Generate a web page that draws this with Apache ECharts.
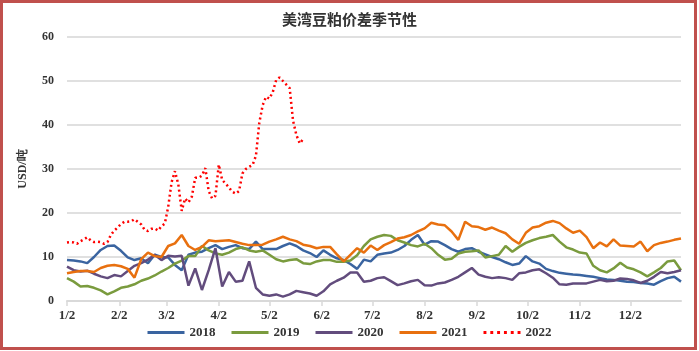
<!DOCTYPE html>
<html>
<head>
<meta charset="utf-8">
<script src="https://cdn.jsdelivr.net/npm/echarts@6/dist/echarts.min.js"></script>
<style>
  html, body { margin: 0; padding: 0; background: #fff; }
  #chart { width: 699px; height: 351px; }
</style>
</head>
<body>
<div id="chart"></div>
<script>
// x axis: every day from 1/2 to 1/1, labels only on the 2nd of each month
const days = [];
for (let i = 0; i < 365; i++) {
  const d = new Date(2021, 0, 2 + i);
  days.push((d.getMonth() + 1) + '/' + d.getDate());
}

// values sampled every 4 days (2018-2021) and every 2 days (2022) from 1/2
const STEP = 4;
const STEP_2022 = 2;

const y2018 = [
  9.3, 9.2, 9.0, 8.6, 10.0, 11.6, 12.5, 12.6, 11.4, 9.9, 9.3, 9.7, 8.6, 10.5, 10.0, 9.9,
  8.2, 7.0, 10.5, 11.0, 11.2, 12.0, 12.7, 11.8, 12.3, 12.7, 12.0, 11.8, 13.5, 11.8, 11.8, 11.8,
  12.5, 13.1, 12.5, 11.5, 10.9, 10.0, 11.5, 10.5, 9.7, 9.3, 8.4, 7.3, 9.4, 9.0, 10.5, 10.8,
  11.0, 11.6, 12.5, 13.9, 15.0, 12.8, 13.6, 13.5, 12.7, 11.8, 11.2, 11.8, 12.0, 11.2, 10.6, 10.0,
  9.5, 8.8, 8.2, 8.5, 10.2, 9.0, 8.5, 7.3, 6.8, 6.4, 6.2, 6.0, 5.9, 5.7, 5.5, 5.2,
  4.9, 4.8, 4.6, 4.4, 4.3, 4.1, 4.0, 3.7, 4.5, 5.2, 5.5, 4.4
];
const y2019 = [
  5.2, 4.4, 3.3, 3.4, 3.0, 2.4, 1.5, 2.2, 3.0, 3.3, 3.8, 4.6, 5.1, 5.8, 6.7, 7.5,
  8.5, 9.2, 10.2, 10.2, 12.5, 11.5, 10.8, 10.5, 11.0, 11.8, 12.2, 11.5, 11.2, 11.5, 10.5, 9.5,
  9.0, 9.3, 9.5, 8.6, 8.4, 9.0, 9.3, 9.3, 8.9, 8.9, 9.2, 10.4, 12.5, 14.0, 14.6, 15.0,
  14.8, 13.8, 13.3, 12.7, 12.4, 13.0, 12.0, 10.5, 9.4, 9.6, 10.8, 11.2, 11.3, 11.5, 9.9, 10.2,
  10.5, 12.5, 11.2, 12.3, 13.2, 13.8, 14.3, 14.6, 15.0, 13.5, 12.2, 11.7, 11.0, 10.8, 8.0, 7.0,
  6.5, 7.4, 8.7, 7.6, 7.2, 6.5, 5.6, 6.5, 7.5, 9.0, 9.2, 7.0
];
const y2020 = [
  7.8, 7.0, 6.7, 6.9, 6.2, 5.6, 5.2, 5.9, 5.6, 6.8, 8.0, 8.6, 9.4, 10.5, 9.3, 10.3,
  10.1, 10.3, 3.5, 7.4, 2.5, 7.0, 12.0, 3.3, 6.6, 4.4, 4.6, 9.0, 3.0, 1.5, 1.2, 1.5,
  1.0, 1.5, 2.3, 2.0, 1.7, 1.2, 2.2, 3.8, 4.6, 5.3, 6.5, 6.5, 4.4, 4.6, 5.2, 5.4,
  4.5, 3.6, 4.0, 4.5, 4.8, 3.6, 3.5, 4.0, 4.2, 4.8, 5.5, 6.5, 7.5, 6.0, 5.5, 5.2,
  5.4, 5.2, 4.8, 6.3, 6.5, 7.0, 7.2, 6.3, 5.3, 3.8, 3.7, 4.0, 4.0, 4.0, 4.4, 4.8,
  4.5, 4.6, 5.1, 5.0, 4.7, 4.1, 4.6, 5.5, 6.6, 6.3, 6.6, 7.0
];
const y2021 = [
  6.3, 6.6, 6.8, 6.8, 6.6, 7.5, 8.0, 8.2, 7.9, 7.3, 5.3, 9.5, 11.0, 10.2, 10.0, 12.5,
  13.1, 15.0, 12.5, 11.6, 12.3, 13.8, 13.6, 13.7, 13.8, 13.4, 13.0, 12.7, 12.7, 12.8, 13.5, 14.0,
  14.6, 14.0, 13.6, 12.8, 12.5, 12.0, 12.3, 12.3, 10.6, 9.0, 10.5, 12.0, 11.0, 12.6, 11.6, 12.7,
  13.4, 14.2, 14.5, 15.0, 15.8, 16.5, 17.8, 17.4, 17.2, 15.8, 13.9, 18.0, 17.0, 16.8, 16.2, 16.7,
  16.0, 15.4, 14.0, 13.0, 15.5, 16.7, 17.0, 17.8, 18.2, 17.7, 16.5, 15.5, 16.0, 14.5, 12.0, 13.3,
  12.4, 14.0, 12.6, 12.5, 12.4, 13.5, 11.3, 12.7, 13.2, 13.5, 13.9, 14.2
];
const y2022 = [
  13.3, 13.4, 13.3, 13.0, 13.6, 14.0, 14.5, 13.8, 13.4, 13.5, 13.4, 13.0, 13.4, 15.0, 16.0, 16.7,
  17.5, 18.0, 18.0, 18.1, 18.6, 18.0, 17.4, 16.2, 15.9, 16.4, 16.5, 16.0, 17.0, 17.6, 21.4, 27.0,
  29.5, 26.5, 20.5, 23.3, 22.4, 23.7, 28.0, 28.0, 28.5, 30.2, 25.0, 23.3, 23.9, 31.0, 27.5, 26.7,
  25.8, 24.8, 24.4, 25.0, 29.0, 30.0, 30.5, 30.9, 33.0, 40.5, 44.5, 46.4, 46.0, 47.5, 50.2, 50.8,
  50.0, 49.2, 48.4, 41.0, 37.7, 35.8, 36.8
];

const seriesDefs = [
  { name: '2018', values: y2018, step: STEP, color: '#3a64a0' },
  { name: '2019', values: y2019, step: STEP, color: '#7a9b3e' },
  { name: '2020', values: y2020, step: STEP, color: '#624c7d' },
  { name: '2021', values: y2021, step: STEP, color: '#e8700f' },
  { name: '2022', values: y2022, step: STEP_2022, color: '#ff0000', dotted: true }
];

// legend marks: a plain bar for solid lines, a row of dots for the dotted one
const solidIcon = 'rect';
const dottedIcon = 'path://M0,0h3v3h-3z M7,0h3v3h-3z M14,0h3v3h-3z M21,0h3v3h-3z M28,0h3v3h-3z M35,0h3v3h-3z';

const textStyle = { color: '#333', fontFamily: 'Liberation Serif', fontWeight: 'bold' };

const chart = echarts.init(document.getElementById('chart'));
chart.setOption({
  animation: false,
  title: {
    text: '美湾豆粕价差季节性',
    left: 'center',
    top: 7,
    textStyle: { color: '#333', fontSize: 15, fontWeight: 'bold', fontFamily: 'Noto Sans CJK SC' }
  },
  legend: {
    top: 321,
    left: 'center',
    itemWidth: 37,
    itemHeight: 3,
    itemGap: 16,
    textStyle: { ...textStyle, fontSize: 13 },
    data: seriesDefs.map(s => ({ name: s.name, icon: s.dotted ? dottedIcon : solidIcon }))
  },
  grid: { left: 67, right: 18, top: 37, bottom: 50 },
  xAxis: {
    type: 'category',
    data: days,
    boundaryGap: false,
    axisLine: { lineStyle: { color: '#d9d9d9', width: 2 } },
    axisTick: {
      interval: (i, v) => v.split('/')[1] === '2',
      length: 5,
      lineStyle: { color: '#d9d9d9', width: 1.5 }
    },
    axisLabel: {
      interval: (i, v) => v.split('/')[1] === '2',
      margin: 8,
      ...textStyle,
      fontSize: 13
    },
    splitLine: { show: false }
  },
  yAxis: {
    type: 'value',
    min: 0,
    max: 60,
    interval: 10,
    name: 'USD/吨',
    nameLocation: 'middle',
    nameGap: 38,
    nameTextStyle: { color: '#333', fontWeight: 'bold', fontSize: 12, fontFamily: 'Liberation Serif' },
    axisLine: { show: false },
    axisTick: { show: false },
    axisLabel: { ...textStyle, fontSize: 12, margin: 13 },
    splitLine: { lineStyle: { color: '#e0e0e0', width: 2 } }
  },
  series: seriesDefs.map(s => ({
    name: s.name,
    type: 'line',
    symbol: 'none',
    color: s.color,
    data: s.values.map((v, i) => [i * s.step, v]),
    lineStyle: s.dotted
      ? { color: s.color, width: 2.5, type: [2, 3] }
      : { color: s.color, width: 2.5 }
  })),
  graphic: [{
    type: 'rect',
    shape: { x: 1.5, y: 1.5, width: 694, height: 347 },
    style: { fill: 'none', stroke: '#c0504d', lineWidth: 3 },
    silent: true
  }]
});
</script>
</body>
</html>
